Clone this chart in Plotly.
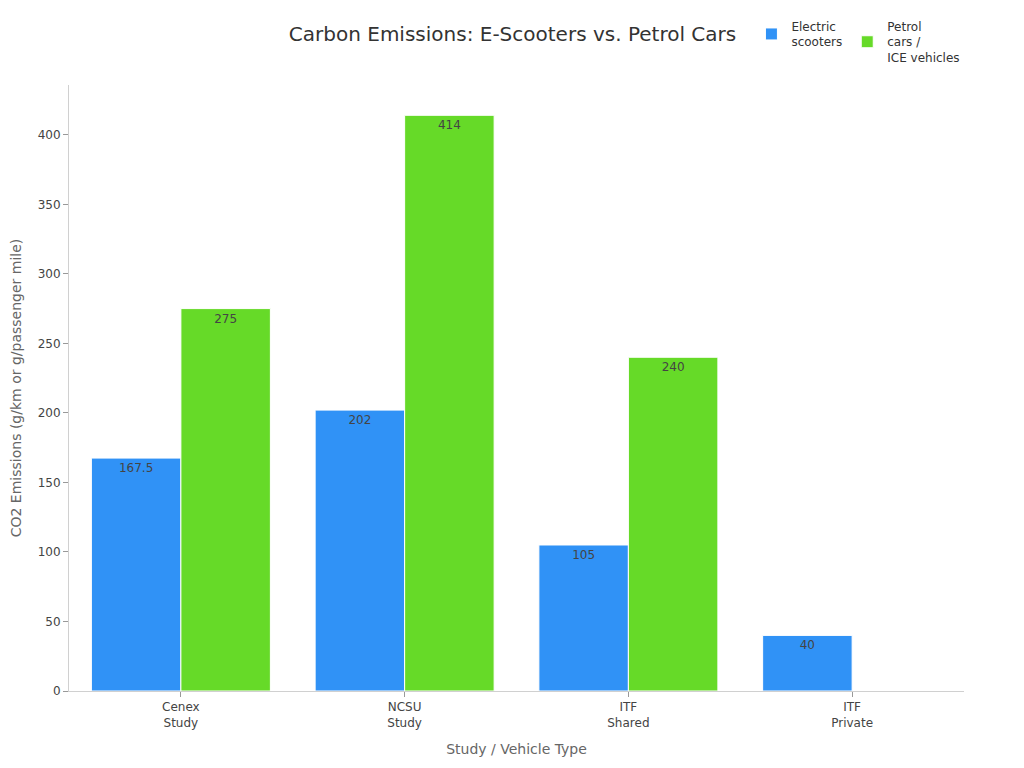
import plotly.graph_objects as go

# data
categories = ["Cenex<br>Study", "NCSU<br>Study", "ITF<br>Shared", "ITF<br>Private"]
scooter_values = [167.5, 202, 105, 40]
petrol_values = [275, 414, 240, None]
scooter_labels = ["167.5", "202", "105", "40"]
petrol_labels = ["275", "414", "240", ""]

fig = go.Figure()

fig.add_trace(
    go.Bar(
        x=categories,
        y=scooter_values,
        name="Electric<br>scooters",
        marker=dict(color="#3092F6", line=dict(color="white", width=1)),
        text=scooter_labels,
        textposition="inside",
        insidetextanchor="end",
        textfont=dict(color="#444444", size=12),
    )
)

fig.add_trace(
    go.Bar(
        x=categories,
        y=petrol_values,
        name="Petrol<br>cars /<br>ICE vehicles",
        marker=dict(color="#66DA28", line=dict(color="white", width=1)),
        text=petrol_labels,
        textposition="inside",
        insidetextanchor="end",
        textfont=dict(color="#444444", size=12),
    )
)

fig.update_layout(
    width=1024,
    height=768,
    font=dict(family="DejaVu Sans", size=12, color="#444444"),
    title=dict(
        text="Carbon Emissions: E-Scooters vs. Petrol Cars",
        x=0.4927,
        xanchor="center",
        y=0.975,
        font=dict(size=20, color="#333333"),
    ),
    barmode="group",
    bargap=0.2,
    bargroupgap=0,
    plot_bgcolor="white",
    paper_bgcolor="white",
    margin=dict(l=61, r=68, t=77, b=85),
    legend=dict(
        orientation="h",
        xref="container",
        yref="container",
        x=0.726,
        y=0.995,
        xanchor="left",
        yanchor="top",
        font=dict(size=12, color="#333333"),
        traceorder="normal",
    ),
    xaxis=dict(
        title=dict(text="Study / Vehicle Type", font=dict(size=14, color="#666666")),
        showline=True,
        linecolor="#d0d0d0",
        ticks="outside",
        tickcolor="#999999",
        ticklen=5,
        showgrid=False,
        automargin=False,
    ),
    yaxis=dict(
        title=dict(
            text="CO2 Emissions (g/km or g/passenger mile)",
            font=dict(size=14, color="#666666"),
            standoff=14,
        ),
        showline=True,
        linecolor="#d0d0d0",
        ticks="outside",
        tickcolor="#999999",
        ticklen=5,
        showgrid=False,
        zeroline=False,
        dtick=50,
        rangemode="tozero",
        automargin=False,
    ),
)

fig.write_html("out.html")
